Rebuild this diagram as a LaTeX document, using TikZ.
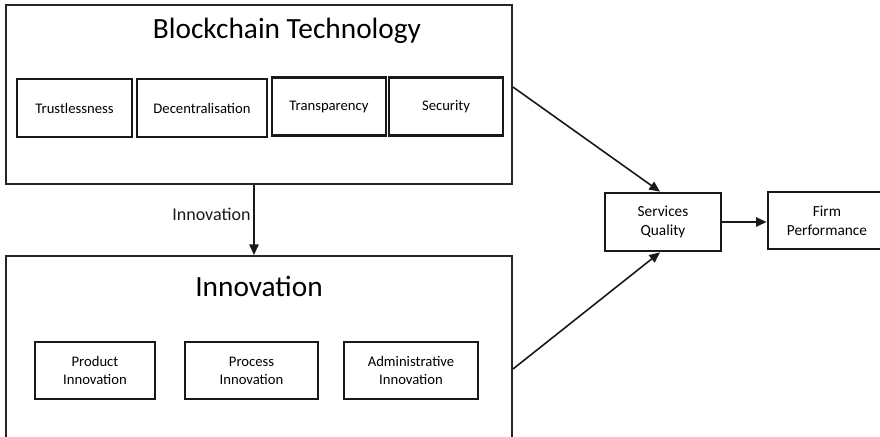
\documentclass[tikz,border=0pt]{standalone}
\usepackage{fontspec}
\setmainfont{Carlito}
\usetikzlibrary{arrows.meta}

\begin{document}
\begin{tikzpicture}[x=0.75pt,y=0.75pt,yscale=-1,xscale=1,
	groupbox/.style={draw=black!85, line width=1.5pt, inner sep=0pt, minimum width=379.5pt},
	itembox/.style={draw=black!90, line width=2pt, inner sep=0pt, align=center, minimum height=43.5pt, font={\fontsize{11}{13.5}\selectfont}},
	outbox/.style={itembox, font={\fontsize{11.5}{14.5}\selectfont}},
	arr/.style={-{Triangle[length=8pt,width=7pt]}, line width=1.2pt, color=black!90}]
				\useasboundingbox (0,0) rectangle (880,436);
				\clip (0,0) rectangle (880,436);
				
				%Shape: Rectangle -- blockchain group
				\node [groupbox, minimum height=134.25pt] (bt) at (259,94.5) {};
				\node [font={\fontsize{22}{26}\selectfont}] (bttitle) at (287,31) {Blockchain Technology};
				\node [itembox, minimum width=86.25pt] (trust) at (74.5,108) {Trustlessness};
				\node [itembox, minimum width=97.5pt] (decent) at (202,108) {Decentralisation};
				\node [itembox, minimum width=85.5pt] (transp) at (329,106.5) {Transparency};
				\node [itembox, minimum width=85.5pt] (secur) at (446,106.5) {Security};
				
				%Shape: Rectangle -- innovation group (runs off the bottom)
				\node [groupbox, minimum height=153pt] (inn) at (259,358) {};
				\node [font={\fontsize{22}{26}\selectfont}] (inntitle) at (259,286) {Innovation};
				\node [itembox, minimum width=90pt, minimum height=42.75pt] (prod) at (95,370.5) {Product\\Innovation};
				\node [itembox, minimum width=99.75pt, minimum height=42.75pt] (proc) at (251.5,370.5) {Process\\Innovation};
				\node [itembox, minimum width=100.5pt, minimum height=42.75pt] (admin) at (411,370.5) {Administrative\\Innovation};
				
				%Shape: Rectangle -- outcomes
				\node [outbox, minimum width=87pt] (sq) at (663,222) {Services\\Quality};
				\node [outbox, minimum width=88.5pt, minimum height=42.75pt] (fp) at (827,220.5) {Firm\\Performance};
				
				%Straight Lines
				\draw [arr] ([xshift=-3.75pt]bt.south) -- ([xshift=-3.75pt]inn.north) node [pos=0.42, left, inner sep=2pt, font={\fontsize{13.5}{16}\selectfont}] (innlabel) {Innovation};
				\draw [arr] ([yshift=-5.6pt]bt.east) -- ([xshift=-2.25pt]sq.north);
				\draw [arr] ([yshift=8.25pt]inn.east) -- ([xshift=-2.25pt]sq.south);
				\draw [arr] (sq.east) -- (sq.east -| fp.west);
				
\end{tikzpicture}
\end{document}
